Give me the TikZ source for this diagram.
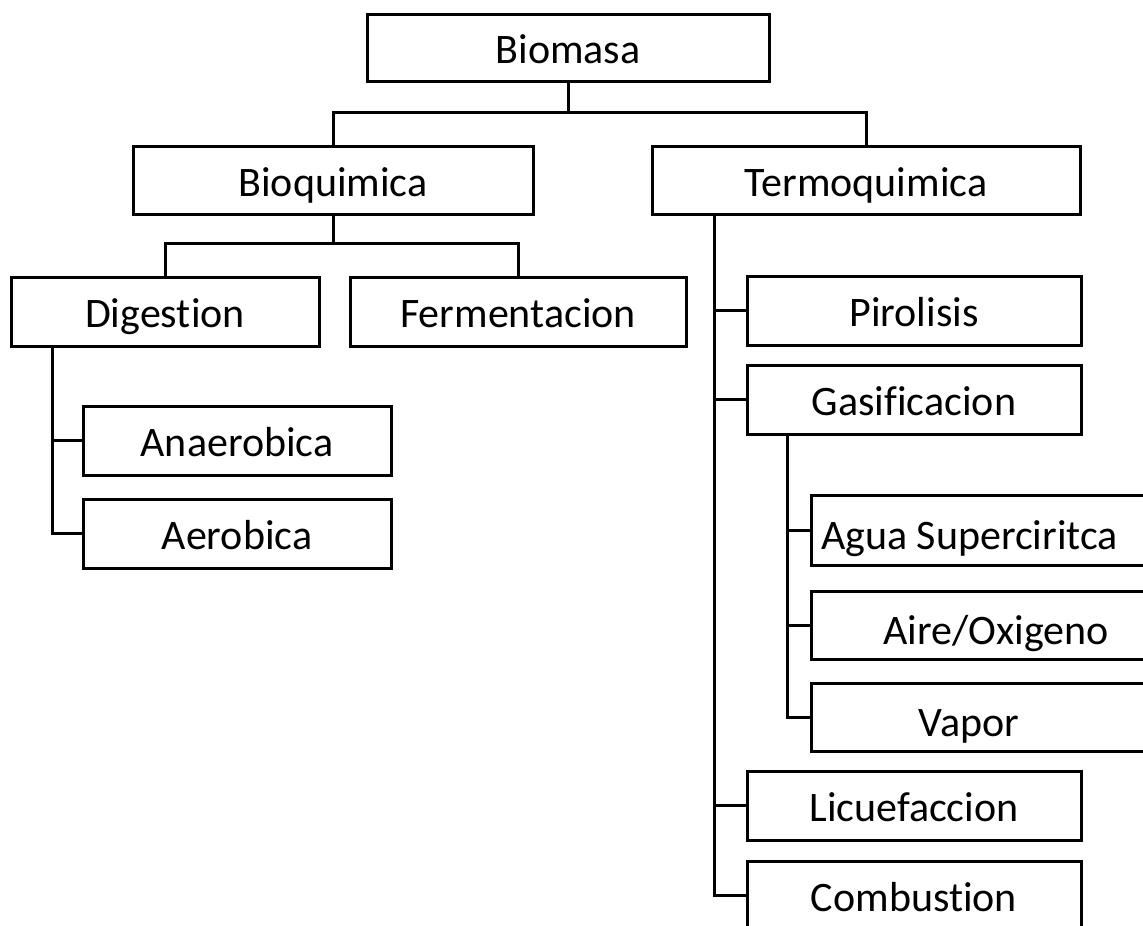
\documentclass[tikz,border=0pt]{standalone}
\usepackage{fontspec}
\setmainfont[Ligatures=NoCommon]{Carlito}
\begin{document}
\begin{tikzpicture}[x=1pt,y=-1pt,
  box/.style={draw=black, line width=3pt, rectangle, inner sep=2pt,
    minimum height=69pt, text height=32pt, text depth=0pt,
    font=\fontsize{42}{50}\selectfont},
  lbl/.style={inner sep=2pt, text height=32pt, text depth=0pt,
    font=\fontsize{42}{50}\selectfont},
  conn/.style={draw=black, line width=3pt}]
\useasboundingbox (0,0) rectangle (1143,926);
\clip (0,0) rectangle (1143,926);
\fill[white] (0,0) rectangle (1143,926);
% boxes
\node[box, minimum width=402pt, minimum height=67pt] (bio) at (568,47.5) {Biomasa};
\node[box, minimum width=400pt, minimum height=68pt] (bioq) at (333,180) {Bioquimica};
\node[box, minimum width=428pt, minimum height=68pt] (termo) at (866,180) {Termoquimica};
\node[box, minimum width=308pt] (dig) at (165,311.5) {Digestion};
\node[box, minimum width=336pt] (ferm) at (518,311.5) {Fermentacion};
\node[box, minimum width=308pt] (ana) at (237,440.5) {Anaerobica};
\node[box, minimum width=308pt] (aer) at (237,533.5) {Aerobica};
\node[box, minimum width=334pt] (piro) at (914,310.5) {Pirolisis};
\node[box, minimum width=334pt] (gasi) at (914,399.5) {Gasificacion};
\node[box, minimum width=349pt, minimum height=70pt] (agua) at (985.5,530) {};
\node[lbl] (aguat) at (969.5,533) {Agua Superciritca};
\node[box, minimum width=349pt, minimum height=68pt] (aire) at (985.5,625) {};
\node[lbl] (airet) at (996,628) {Aire/Oxigeno};
\node[box, minimum width=349pt, minimum height=68pt] (vapor) at (985.5,717) {};
\node[lbl] (vaport) at (969,720) {Vapor};
\node[box, minimum width=334pt] (licu) at (914,805.5) {Licuefaccion};
\node[box, minimum width=334pt] (comb) at (914,895.5) {Combustion};
% junctions
\coordinate (j1) at (568,112);
\coordinate (j2) at (333,243);
\coordinate (dv) at (52,346);
\coordinate (tv) at (714,214);
\coordinate (gv) at (787,434);
% connectors
\draw[conn] (bio.south) -- (j1);
\draw[conn] (bioq.north) |- (j1) -| (termo.north);
\draw[conn] (bioq.south) -- (j2);
\draw[conn] (dig.north) |- (j2) -| (ferm.north);
\draw[conn] (dv) |- (ana.west);
\draw[conn] (dv) |- (aer.west);
\draw[conn] (tv) |- (piro.west);
\draw[conn] (tv) |- (gasi.west);
\draw[conn] (tv) |- (licu.west);
\draw[conn] (tv) |- (comb.west);
\draw[conn] (gv) |- (agua.west);
\draw[conn] (gv) |- (aire.west);
\draw[conn] (gv) |- (vapor.west);
\end{tikzpicture}
\end{document}
